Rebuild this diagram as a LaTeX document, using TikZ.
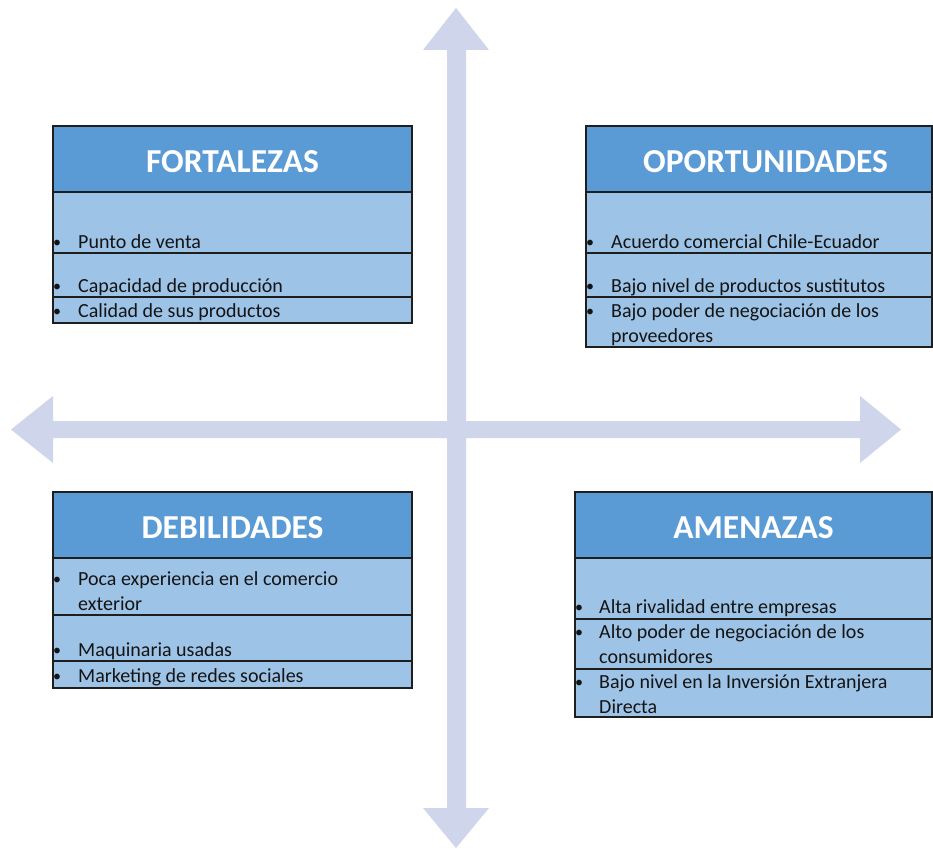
\documentclass[tikz,border=0pt]{standalone}
\usepackage{fontspec}
\setmainfont{Carlito}
\definecolor{arrowc}{HTML}{CFD5EA}
\definecolor{hdrc}{HTML}{5B9BD5}
\definecolor{bodyc}{HTML}{9DC3E6}
\definecolor{bordc}{HTML}{1E1E1E}
\definecolor{txtc}{HTML}{141414}
\tikzset{
  cell/.style={draw=bordc, line width=1.5pt, anchor=north west, inner sep=0pt, outer sep=0pt},
  hdr/.style={cell, fill=hdrc},
  row/.style={cell, fill=bodyc},
  htext/.style={text=white, font=\bfseries\fontsize{33.5}{33.5}\selectfont, anchor=base, inner sep=0pt},
  btext/.style={text=txtc, font=\fontsize{20}{25}\selectfont, anchor=base west, inner sep=0pt},
  bul/.style={text=txtc, font=\fontsize{16}{25}\selectfont, anchor=base, inner sep=0pt},
  bigarrow/.style={fill=arrowc, draw=none}
}
\begin{document}
\begin{tikzpicture}[x=1pt,y=-1pt]
\useasboundingbox (0,0) rectangle (933,848);
\fill[white] (0,0) rectangle (933,848);
% axes
\coordinate (C) at (456,430);
\fill[bigarrow] (447,808) -- (423,808) -- (456,848) -- (489,808) -- (466,808) -- (466,50) -- (489,50) -- (456,8) -- (423,50) -- (447,50) -- cycle;
\fill[bigarrow] (53,421) -- (53,396) -- (11,429.5) -- (53,463) -- (53,438) -- (860,438) -- (860,463) -- (901,429.5) -- (860,396) -- (860,421) -- cycle;

% FORTALEZAS
\node[hdr, minimum width=359pt, minimum height=66pt] (fh) at (53,126) {};
\node[row, minimum width=359pt, minimum height=61pt] (f1) at (53,192) {};
\node[row, minimum width=359pt, minimum height=44pt] (f2) at (53,253) {};
\node[row, minimum width=359pt, minimum height=26pt] (f3) at (53,297) {};
\node[htext] (fht) at (232.5,172) {FORTALEZAS};
\node[bul] (fb1) at (57,247) {•};
\node[btext] (ft1) at (78,248) {Punto de venta};
\node[bul] (fb2) at (57,291) {•};
\node[btext] (ft2) at (78,292) {Capacidad de producción};
\node[bul] (fb3) at (57,316) {•};
\node[btext] (ft3) at (78,317) {Calidad de sus productos};

% OPORTUNIDADES
\node[hdr, minimum width=346pt, minimum height=66pt] (oh) at (586,126) {};
\node[row, minimum width=346pt, minimum height=61pt] (o1) at (586,192) {};
\node[row, minimum width=346pt, minimum height=44pt] (o2) at (586,253) {};
\node[row, minimum width=346pt, minimum height=50pt] (o3) at (586,297) {};
\node[htext] (oht) at (765.5,172) {OPORTUNIDADES};
\node[bul] (ob1) at (590,247) {•};
\node[btext] (ot1) at (611,248) {Acuerdo comercial Chile-Ecuador};
\node[bul] (ob2) at (590,291) {•};
\node[btext] (ot2) at (611,292) {Bajo nivel de productos sustitutos};
\node[bul] (ob3) at (590,316) {•};
\node[btext] (ot3) at (611,317) {Bajo poder de negociación de los};
\node[btext] (ot3b) at (611,342) {proveedores};

% DEBILIDADES
\node[hdr, minimum width=359pt, minimum height=66pt] (dh) at (53,492) {};
\node[row, minimum width=359pt, minimum height=57pt] (d1) at (53,558) {};
\node[row, minimum width=359pt, minimum height=46pt] (d2) at (53,615) {};
\node[row, minimum width=359pt, minimum height=27pt] (d3) at (53,661) {};
\node[htext] (dht) at (232.5,538) {DEBILIDADES};
\node[bul] (db1) at (57,584) {•};
\node[btext] (dt1) at (78,585) {Poca experiencia en el comercio};
\node[btext] (dt1b) at (78,610) {exterior};
\node[bul] (db2) at (57,655) {•};
\node[btext] (dt2) at (78,656) {Maquinaria usadas};
\node[bul] (db3) at (57,681) {•};
\node[btext] (dt3) at (78,682) {Marketing de redes sociales};

% AMENAZAS
\node[hdr, minimum width=357pt, minimum height=66pt] (ah) at (575,492) {};
\node[row, minimum width=357pt, minimum height=61pt] (a1) at (575,558) {};
\node[row, minimum width=357pt, minimum height=50pt] (a2) at (575,619) {};
\node[row, minimum width=357pt, minimum height=48pt] (a3) at (575,669) {};
\node[htext] (aht) at (753.5,538) {AMENAZAS};
\node[bul] (ab1) at (579,612) {•};
\node[btext] (at1) at (599,613) {Alta rivalidad entre empresas};
\node[bul] (ab2) at (579,637) {•};
\node[btext] (at2) at (599,638) {Alto poder de negociación de los};
\node[btext] (at2b) at (599,663) {consumidores};
\node[bul] (ab3) at (579,687) {•};
\node[btext] (at3) at (599,688) {Bajo nivel en la Inversión Extranjera};
\node[btext] (at3b) at (599,713) {Directa};
\end{tikzpicture}
\end{document}
